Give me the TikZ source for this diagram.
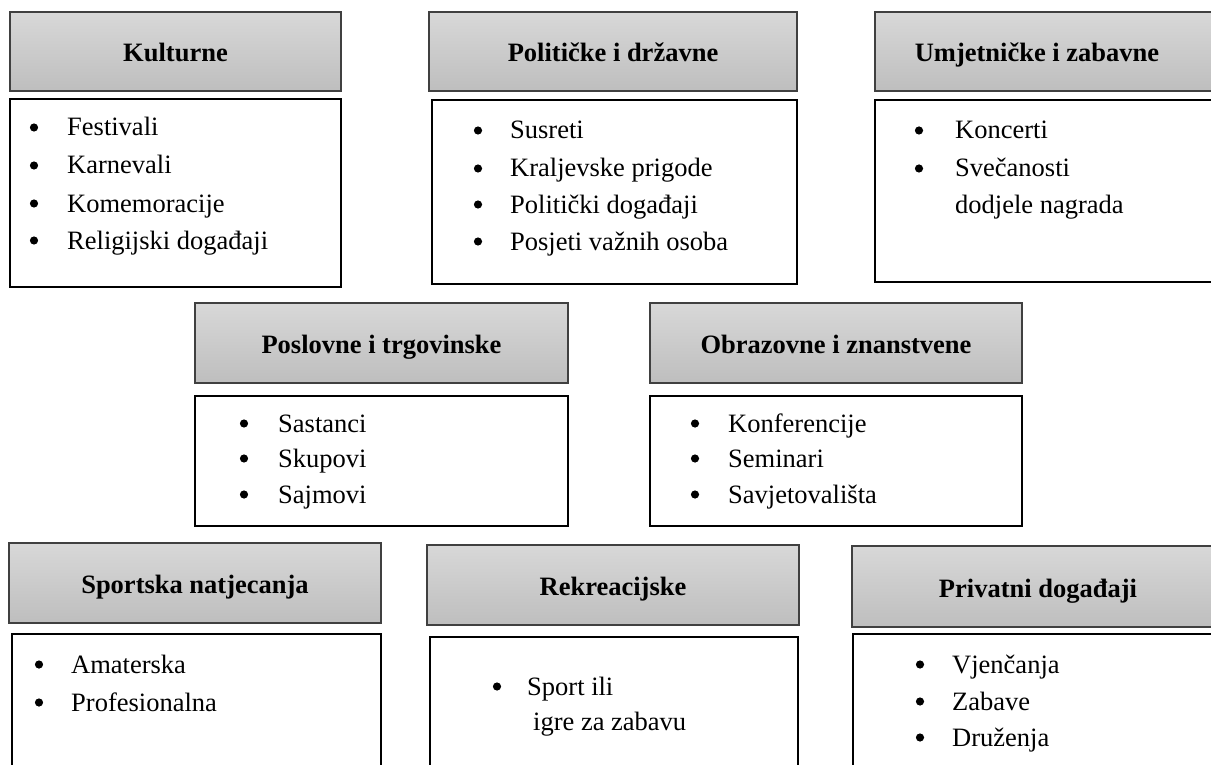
\documentclass[tikz,border=0pt]{standalone}
\usepackage{fontspec}
\setmainfont{Liberation Serif}
\definecolor{hdrtop}{HTML}{D8D8D8}
\definecolor{hdrbot}{HTML}{BEBEBE}
\definecolor{hdrline}{HTML}{404040}
\tikzset{
  hdr/.style={draw=hdrline, line width=1.4pt, top color=hdrtop, bottom color=hdrbot,
    rectangle, inner sep=0pt, outer sep=0pt},
  hdrtext/.style={anchor=base, inner sep=0pt, font=\fontsize{26.5}{32}\selectfont\bfseries},
  bodybox/.style={draw=black, line width=2.6pt, fill=white, rectangle, inner sep=0pt, outer sep=0pt},
  bul/.style={circle, fill=black, inner sep=0pt, minimum size=8.2pt},
  itm/.style={anchor=base west, inner sep=0pt, font=\fontsize{26.5}{32}\selectfont}
}
\newcommand{\mkhdr}[6]{% name, x1, x2, y1, y2, text-center-x ; text
  \path[hdr] (#2,#4) rectangle (#3,#5);
  \node[hdrtext] (#1) at ({#6},{(#4+#5)/2+10.5}) }
\newcommand{\mkbody}[5]{%
  \path[bodybox] (#2,#4) rectangle (#3,#5) coordinate (#1);}
\newcommand{\bitem}[5]{% name, bullet x, text x, baseline y, text
  \node[bul] (#1b) at (#2,{#4-8.5}) {};
  \node[itm] (#1) at (#3,#4) {#5};}
\begin{document}
\begin{tikzpicture}[x=1pt,y=-1pt]
\clip (0,0) rectangle (1211,765);
\fill[white] (0,0) rectangle (1211,765);
% Row 1
\mkhdr{h1}{10}{341}{12}{91}{175.5}{Kulturne};
\mkbody{b1}{10}{341}{99}{287}
\bitem{i11}{34}{67}{136}{Festivali}
\bitem{i12}{34}{67}{174}{Karnevali}
\bitem{i13}{34}{67}{212}{Komemoracije}
\bitem{i14}{34}{67}{249}{Religijski događaji}

\mkhdr{h2}{429}{797}{12}{91}{613}{Političke i državne};
\mkbody{b2}{432}{797}{100}{284}
\bitem{i21}{478}{510}{139}{Susreti}
\bitem{i22}{478}{510}{177}{Kraljevske prigode}
\bitem{i23}{478}{510}{213}{Politički događaji}
\bitem{i24}{478}{510}{250}{Posjeti važnih osoba}

\mkhdr{h3}{875}{1216}{12}{91}{1037}{Umjetničke i zabavne};
\mkbody{b3}{875}{1216}{100}{282}
\bitem{i31}{919}{955}{139}{Koncerti}
\bitem{i32}{919}{955}{177}{Svečanosti}
\node[itm] (i33) at (955,213) {dodjele nagrada};

% Row 2
\mkhdr{h4}{195}{568}{303}{383}{381.5}{Poslovne i trgovinske};
\mkbody{b4}{195}{568}{396}{526}
\bitem{i41}{244}{278}{432}{Sastanci}
\bitem{i42}{244}{278}{467}{Skupovi}
\bitem{i43}{244}{278}{503}{Sajmovi}

\mkhdr{h5}{650}{1022}{303}{383}{836}{Obrazovne i znanstvene};
\mkbody{b5}{650}{1022}{396}{526}
\bitem{i51}{695}{728}{432}{Konferencije}
\bitem{i52}{695}{728}{467}{Seminari}
\bitem{i53}{695}{728}{503}{Savjetovališta}

% Row 3
\mkhdr{h6}{9}{381}{543}{623}{195}{Sportska natjecanja};
\mkbody{b6}{12}{381}{634}{790}
\bitem{i61}{39}{71}{673}{Amaterska}
\bitem{i62}{39}{71}{711}{Profesionalna}

\mkhdr{h7}{427}{799}{545}{625}{613}{Rekreacijske};
\mkbody{b7}{430}{798}{637}{790}
\bitem{i71}{497}{527}{695}{Sport ili}
\node[itm] (i72) at (533,730) {igre za zabavu};

\mkhdr{h8}{852}{1226}{546}{627}{1038}{Privatni događaji};
\mkbody{b8}{853}{1226}{634}{790}
\bitem{i81}{920}{952}{673}{Vjenčanja}
\bitem{i82}{920}{952}{710}{Zabave}
\bitem{i83}{920}{952}{746}{Druženja}
\end{tikzpicture}
\end{document}
